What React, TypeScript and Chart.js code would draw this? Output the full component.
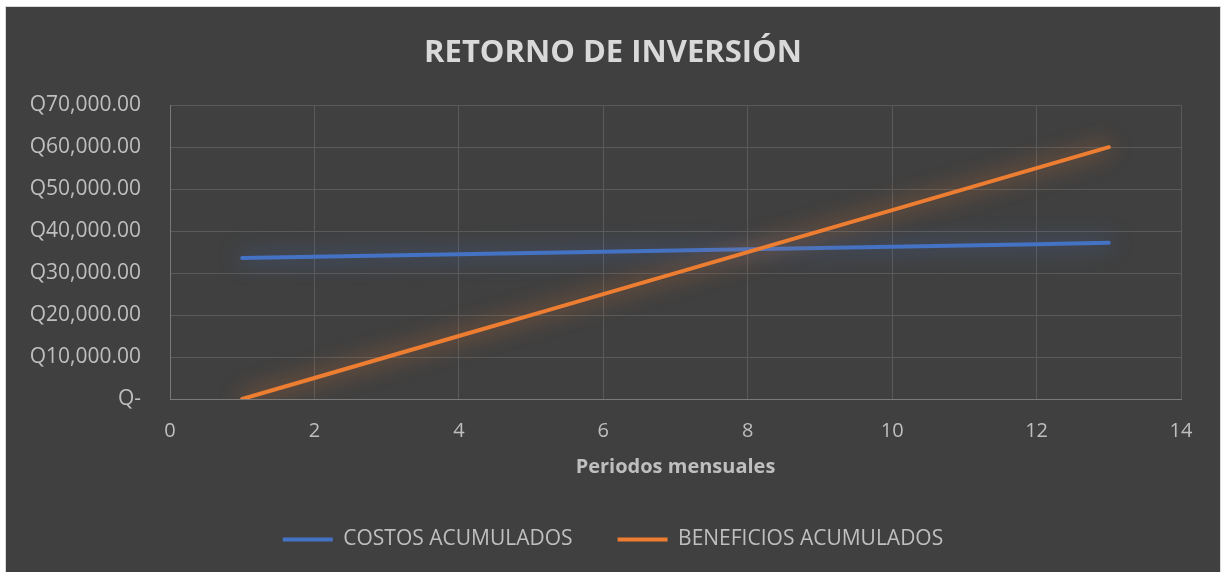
import React, { useEffect, useRef } from "react";
import { Chart, registerables } from "chart.js";

Chart.register(...registerables);

const periods = [1, 2, 3, 4, 5, 6, 7, 8, 9, 10, 11, 12, 13];
const costosAcumulados = [33600, 33900, 34200, 34500, 34800, 35100, 35400, 35700, 36000, 36300, 36600, 36900, 37200];
const beneficiosAcumulados = [0, 5000, 10000, 15000, 20000, 25000, 30000, 35000, 40000, 45000, 50000, 55000, 60000];
const seriesNames = ["COSTOS ACUMULADOS", "BENEFICIOS ACUMULADOS"];
const titleText = "RETORNO DE INVERSIÓN";
const xAxisTitle = "Periodos mensuales";

const BLUE = "#4472C4";
const ORANGE = "#ED7D31";
const FONT = "'Open Sans', sans-serif";

const glowPlugin = {
  id: "glow",
  beforeDatasetDraw(chart: any, args: any) {
    const ctx = chart.ctx;
    ctx.save();
    ctx.shadowColor = args.index === 0 ? "rgba(68,114,196,0.85)" : "rgba(237,125,49,0.85)";
    ctx.shadowBlur = 22;
  },
  afterDatasetDraw(chart: any) {
    chart.ctx.restore();
  },
};

function fmtQ(v: number): string {
  if (v === 0) return "Q-";
  return "Q" + v.toLocaleString("en-US", { minimumFractionDigits: 2, maximumFractionDigits: 2 });
}

export default function App() {
  const ref = useRef<HTMLCanvasElement | null>(null);

  useEffect(() => {
    if (!ref.current) return;
    const chart = new Chart(ref.current, {
      type: "line",
      data: {
        datasets: [
          {
            label: seriesNames[0],
            data: periods.map((p, i) => ({ x: p, y: costosAcumulados[i] })),
            borderColor: BLUE,
            backgroundColor: BLUE,
            borderWidth: 4,
            pointRadius: 0,
            borderCapStyle: "round",
            order: 1,
          },
          {
            label: seriesNames[1],
            data: periods.map((p, i) => ({ x: p, y: beneficiosAcumulados[i] })),
            borderColor: ORANGE,
            backgroundColor: ORANGE,
            borderWidth: 4,
            pointRadius: 0,
            borderCapStyle: "round",
            order: 0,
          },
        ],
      },
      plugins: [glowPlugin],
      options: {
        animation: false,
        responsive: true,
        maintainAspectRatio: false,
        layout: { padding: { left: 0, right: 0, top: 0, bottom: 12 } },
        scales: {
          x: {
            type: "linear",
            min: 0,
            max: 14,
            ticks: {
              stepSize: 2,
              color: "#bfbfbf",
              font: { family: FONT, size: 20 },
              padding: 20,
            },
            grid: { color: "#5a5a5a", lineWidth: 1, drawTicks: false },
            border: { color: "#7a7a7a", width: 1 },
            title: {
              display: true,
              text: xAxisTitle,
              color: "#bfbfbf",
              font: { family: FONT, size: 20, weight: "bold" },
              padding: { top: 0, bottom: 5 },
            },
            afterFit: (s: any) => {
              s.height = 85;
            },
          },
          y: {
            min: 0,
            max: 70000,
            ticks: {
              stepSize: 10000,
              color: "#bfbfbf",
              font: { family: FONT, size: 21 },
              padding: 29,
              callback: (v: any) => fmtQ(Number(v)),
            },
            grid: { color: "#5a5a5a", lineWidth: 1, drawTicks: false },
            border: { color: "#7a7a7a", width: 1 },
            afterFit: (s: any) => {
              s.width = 164;
            },
          },
          rightSpacer: {
            type: "linear",
            position: "right",
            display: true,
            grid: { display: false, drawTicks: false },
            border: { display: false },
            ticks: { display: false },
            afterFit: (s: any) => {
              s.width = 39;
            },
          },
        },
        plugins: {
          title: {
            display: true,
            text: titleText,
            color: "#d9d9d9",
            font: { family: FONT, size: 31, weight: "bold" },
            padding: { top: 28, bottom: 33 },
          },
          legend: {
            position: "bottom",
            labels: {
              color: "#bfbfbf",
              font: { family: FONT, size: 21 },
              boxWidth: 50,
              boxHeight: 4,
              padding: 45,
              sort: (a: any, b: any) => a.datasetIndex - b.datasetIndex,
              generateLabels: (c: any) =>
                Chart.defaults.plugins.legend.labels.generateLabels(c).map((l: any) => ({
                  ...l,
                  lineWidth: 0,
                  fillStyle: l.strokeStyle,
                })),
            },
          },
          tooltip: { enabled: false },
        },
      },
    } as any);
    return () => chart.destroy();
  }, []);

  return (
    <div style={{ position: "fixed", inset: 0, background: "#ffffff" }}>
      <div
        style={{
          position: "absolute",
          left: 5,
          top: 6,
          width: 1216,
          height: 572,
          border: "1px solid #d9d9d9",
          background: "#404040",
          boxSizing: "border-box",
        }}
      >
        <div style={{ position: "relative", width: 1214, height: 565 }}>
          <canvas ref={ref} />
        </div>
      </div>
    </div>
  );
}
